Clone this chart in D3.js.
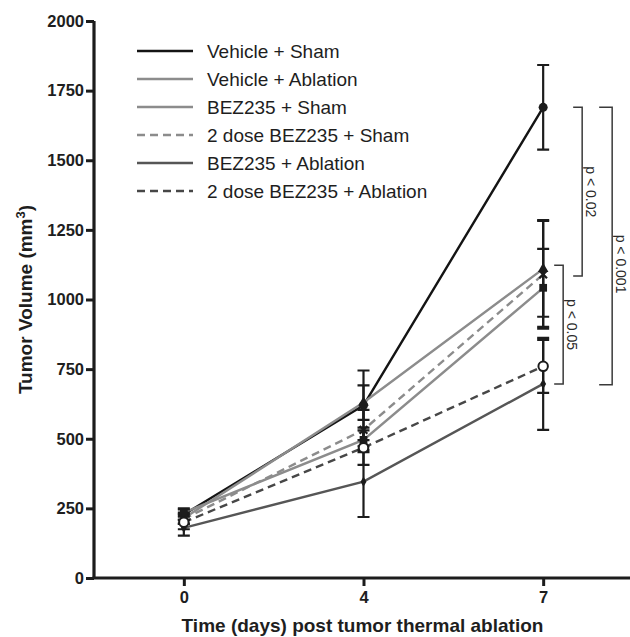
<!DOCTYPE html>
<html>
<head>
<meta charset="utf-8">
<script src="https://cdn.jsdelivr.net/npm/d3@7"></script>
<style>
  html, body { margin: 0; padding: 0; background: #fff; }
  svg { display: block; font-family: "Liberation Sans", Arial, sans-serif; }
</style>
</head>
<body>
<svg id="chart" width="630" height="637"></svg>
<script>
// Time points (days after thermal ablation)
const days = [0, 4, 7];

// Group names, in legend order
const groupNames = [
  "Vehicle + Sham",
  "Vehicle + Ablation",
  "BEZ235 + Sham",
  "2 dose BEZ235 + Sham",
  "BEZ235 + Ablation",
  "2 dose BEZ235 + Ablation"
];

// Mean tumour volume (mm³) per time point and its SEM
const vehicleSham        = [228, 620, 1690];
const vehicleShamErr     = [18, 125, 152];
const vehicleAblation    = [215, 630, 1110];
const vehicleAblationErr = [20, 62, 172];
const bezSham            = [235, 496, 1042];
const bezShamErr         = [15, 44, 140];
const twoDoseSham        = [212, 532, 1090];
const twoDoseShamErr     = [18, 72, 195];
const bezAblation        = [180, 346, 697];
const bezAblationErr     = [28, 127, 165];
const twoDoseAblation    = [200, 468, 760];
const twoDoseAblationErr = [25, 62, 95];

// Y axis tick values
const yTicks = [0, 250, 500, 750, 1000, 1250, 1500, 1750, 2000];

// Significance brackets at day 7: label, upper and lower volume
const bracketLabels = ["p < 0.05", "p < 0.02", "p < 0.001"];
const bracketTop    = [1123, 1690, 1690];
const bracketBottom = [697, 1084, 694];

// ---- styling per group ----
const styles = [
  { color: "#141414", dash: null,  symbol: "circle" },
  { color: "#8c8c8c", dash: null,  symbol: "triangle" },
  { color: "#8c8c8c", dash: null,  symbol: "square" },
  { color: "#8c8c8c", dash: "8,5", symbol: "times" },
  { color: "#565656", dash: null,  symbol: "diamond" },
  { color: "#474747", dash: "8,5", symbol: "open" }
];

const values = [vehicleSham, vehicleAblation, bezSham, twoDoseSham, bezAblation, twoDoseAblation];
const errors = [vehicleShamErr, vehicleAblationErr, bezShamErr, twoDoseShamErr, bezAblationErr, twoDoseAblationErr];

const groups = groupNames.map((name, i) => ({
  name,
  style: styles[i],
  points: days.map((d, j) => ({ day: d, v: values[i][j], e: errors[i][j] }))
}));

const svg = d3.select("#chart");
const axisColor = "#1c1c1c";
const textColor = "#1e1e1e";

const x = d3.scalePoint().domain(days).range([94, 633]).padding(0.5);
const y = d3.scaleLinear().domain([0, 2000]).range([578, 21]);

// ---- axes ----
const yAxis = d3.axisLeft(y).tickValues(yTicks).tickSize(8).tickPadding(2).tickFormat(d3.format("d"));
const gy = svg.append("g").attr("transform", `translate(${x.range()[0]},0)`).call(yAxis);
gy.select(".domain").attr("d", `M0,${y(0)}V${y(2000)}`);

const xAxis = d3.axisBottom(x).tickSize(8).tickPadding(5);
const gx = svg.append("g").attr("transform", `translate(0,${y(0)})`).call(xAxis);
gx.select(".domain").attr("d", `M${x.range()[0] - 1.5},0H630`);

[gx, gy].forEach(g => {
  g.select(".domain").attr("stroke", axisColor).attr("stroke-width", 3.2).attr("fill", "none");
  g.selectAll(".tick line").attr("stroke", axisColor).attr("stroke-width", 3);
  g.selectAll(".tick text")
    .attr("fill", textColor)
    .style("font-size", "16.5px")
    .style("font-weight", "bold")
    .style("font-family", "'Liberation Sans', Arial, sans-serif");
});

// ---- axis titles ----
svg.append("text")
  .attr("x", (x.range()[0] + x.range()[1]) / 2 - 1)
  .attr("y", 632)
  .attr("text-anchor", "middle")
  .attr("fill", textColor)
  .style("font-size", "19px")
  .style("font-weight", "bold")
  .text("Time (days) post tumor thermal ablation");

const yTitle = svg.append("text")
  .attr("transform", `translate(32,${(y(0) + y(2000)) / 2}) rotate(-90)`)
  .attr("text-anchor", "middle")
  .attr("fill", textColor)
  .style("font-size", "19px")
  .style("font-weight", "bold");
yTitle.append("tspan").text("Tumor Volume (mm");
yTitle.append("tspan").attr("dy", -7).style("font-size", "13px").text("3");
yTitle.append("tspan").attr("dy", 7).text(")");

// ---- series lines ----
const line = d3.line().x(p => x(p.day)).y(p => y(p.v));

svg.append("g").selectAll("path")
  .data(groups)
  .join("path")
  .attr("d", g => line(g.points))
  .attr("fill", "none")
  .attr("stroke", g => g.style.color)
  .attr("stroke-width", 2.4)
  .attr("stroke-dasharray", g => g.style.dash);

// ---- error bars (mean ± SEM) ----
const capHalf = 6;
const eb = svg.append("g").attr("stroke", axisColor).attr("stroke-width", 2.2).attr("fill", "none");
groups.forEach(g => {
  g.points.forEach(p => {
    const cx = x(p.day);
    eb.append("path").attr("d",
      `M${cx},${y(p.v + p.e)}V${y(p.v - p.e)}` +
      `M${cx - capHalf},${y(p.v + p.e)}H${cx + capHalf}` +
      `M${cx - capHalf},${y(p.v - p.e)}H${cx + capHalf}`);
  });
});

// ---- markers ----
const symbolFor = {
  circle: d3.symbol(d3.symbolCircle, 64),
  triangle: d3.symbol(d3.symbolTriangle, 48),
  square: d3.symbol(d3.symbolSquare, 60),
  times: d3.symbol(d3.symbolTimes, 40),
  diamond: d3.symbol(d3.symbolDiamond, 30),
  open: d3.symbol(d3.symbolCircle, 70)
};
const mk = svg.append("g");
groups.forEach(g => {
  const s = g.style.symbol;
  g.points.forEach(p => {
    const path = mk.append("path")
      .attr("transform", `translate(${x(p.day)},${y(p.v)})`)
      .attr("d", symbolFor[s]());
    if (s === "open") {
      path.attr("fill", "#fff").attr("stroke", axisColor).attr("stroke-width", 2);
    } else if (s === "times") {
      path.attr("fill", "none").attr("stroke", axisColor).attr("stroke-width", 2.2);
    } else {
      path.attr("fill", axisColor);
    }
  });
});

// ---- legend ----
const legend = svg.append("g").attr("transform", "translate(137,51)");
const legendRow = 28;
groups.forEach((g, i) => {
  const row = legend.append("g").attr("transform", `translate(0,${i * legendRow})`);
  row.append("line")
    .attr("x1", 0).attr("x2", 56).attr("y1", 0).attr("y2", 0)
    .attr("stroke", g.style.color)
    .attr("stroke-width", 2.6)
    .attr("stroke-dasharray", g.style.dash);
  row.append("text")
    .attr("x", 70).attr("y", 0).attr("dy", "0.35em")
    .attr("fill", textColor)
    .style("font-size", "19px")
    .text(g.name);
});

// ---- significance brackets ----
const day7 = x(7);
const bracketOffset = [20, 39, 69];   // horizontal distance of each bracket from the day-7 bars
const bracketArm = [9, 9, 13];
const labelShift = [0, 0, 18];
const br = svg.append("g");
bracketLabels.forEach((label, i) => {
  const bx = day7 + bracketOffset[i];
  const y1 = y(bracketTop[i]), y2 = y(bracketBottom[i]);
  br.append("path")
    .attr("d", `M${bx - bracketArm[i]},${y1}H${bx}V${y2}H${bx - bracketArm[i]}`)
    .attr("fill", "none")
    .attr("stroke", "#3a3a3a")
    .attr("stroke-width", 1.5);
  br.append("text")
    .attr("transform", `translate(${bx + 4},${(y1 + y2) / 2 + labelShift[i]}) rotate(90)`)
    .attr("text-anchor", "middle")
    .attr("fill", "#2a2a2a")
    .style("font-size", "14px")
    .text(label);
});
</script>
</body>
</html>
